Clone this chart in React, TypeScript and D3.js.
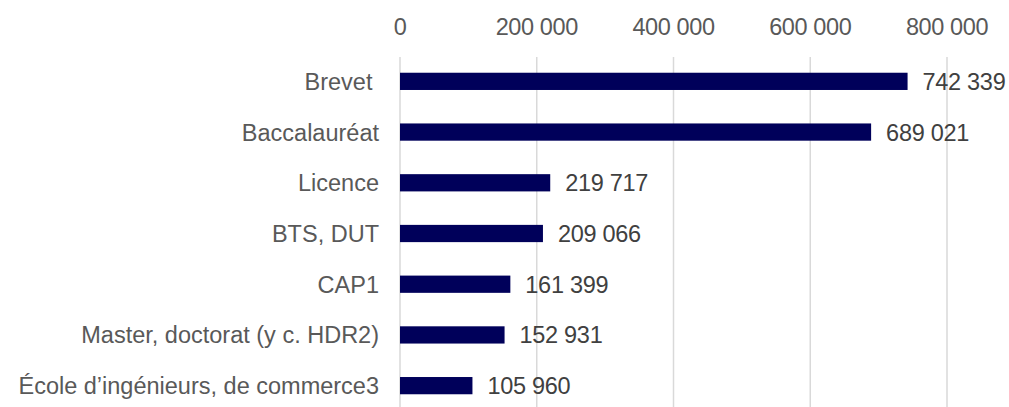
import * as d3 from "d3";

const categories = [
  "Brevet ",
  "Baccalauréat",
  "Licence",
  "BTS, DUT",
  "CAP1",
  "Master, doctorat (y c. HDR2)",
  "École d’ingénieurs, de commerce3",
];
const values = [742339, 689021, 219717, 209066, 161399, 152931, 105960];
const ticks = [0, 200000, 400000, 600000, 800000];

const W = 1009;
const H = 407;
const margin = { top: 56, right: 62, bottom: -4, left: 400 };

const fmt = (v: number) => d3.format(",")(v).replace(/,/g, " ");

export default function App() {
  const x = d3
    .scaleLinear()
    .domain([0, 800000])
    .range([margin.left, W - margin.right]);
  const y = d3
    .scaleBand()
    .domain(categories)
    .range([margin.top, H - margin.bottom])
    .paddingInner(0.66)
    .paddingOuter(0.33);

  const font = "'Liberation Sans', Arial, sans-serif";

  return (
    <svg
      width={W}
      height={H}
      style={{ position: "absolute", left: 0, top: 0, background: "#fff" }}
      fontFamily={font}
    >
      <g className="grid">
        {ticks.map((t) => (
          <line
            key={t}
            x1={x(t)}
            x2={x(t)}
            y1={margin.top + 1}
            y2={H}
            stroke="#d9d9d9"
            strokeWidth={1.5}
          />
        ))}
      </g>
      <g className="axis">
        {ticks.map((t) => (
          <text
            key={t}
            x={x(t)}
            y={35}
            textAnchor="middle"
            fontSize={23.5}
            fill="#595959"
            letterSpacing={-0.4}
            style={{ whiteSpace: "pre" }}
          >
            {fmt(t)}
          </text>
        ))}
      </g>
      <g className="bars">
        {categories.map((c, i) => (
          <g key={c}>
            <rect
              x={x(0)}
              y={y(c)}
              width={x(values[i]) - x(0)}
              height={y.bandwidth()}
              fill="#00005a"
            />
            <text
              x={x(values[i]) + 15}
              y={(y(c) as number) + y.bandwidth() / 2}
              dy="0.36em"
              fontSize={23.5}
              fill="#404040"
              letterSpacing={-0.3}
              style={{ whiteSpace: "pre" }}
            >
              {fmt(values[i])}
            </text>
            <text
              x={379}
              y={(y(c) as number) + y.bandwidth() / 2}
              dy="0.36em"
              textAnchor="end"
              fontSize={23.5}
              fill="#595959"
              style={{ whiteSpace: "pre" }}
            >
              {c}
            </text>
          </g>
        ))}
      </g>
    </svg>
  );
}
